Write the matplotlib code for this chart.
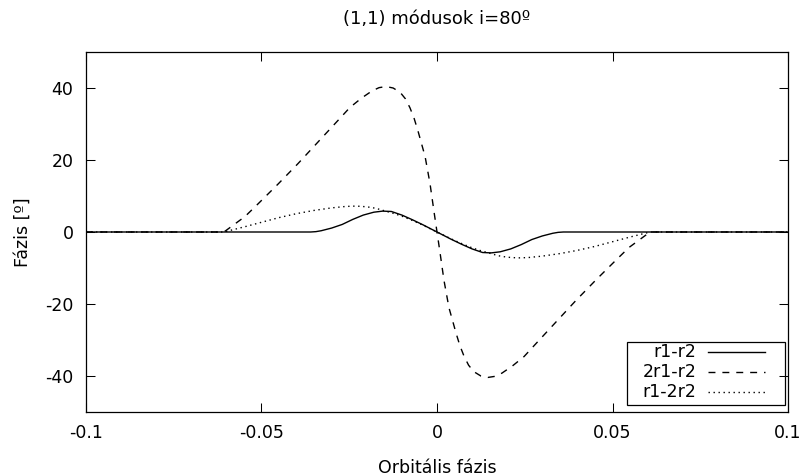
import numpy as np
import matplotlib
matplotlib.use("Agg")
import matplotlib.pyplot as plt

# r1-r2 (solid)
x_r1r2 = [-0.1, -0.0360, -0.0345, -0.0330, -0.0300, -0.0270, -0.0240, -0.0210,
          -0.0180, -0.0155, -0.0130, -0.0100, -0.0070, -0.0040, -0.0015, 0.0,
          0.0015, 0.0040, 0.0070, 0.0100, 0.0130, 0.0155, 0.0180, 0.0210,
          0.0240, 0.0270, 0.0300, 0.0330, 0.0345, 0.0360, 0.1]
y_r1r2 = [0.0, 0.0, 0.1, 0.35, 1.1, 2.1, 3.5, 4.7,
          5.5, 5.8, 5.7, 4.7, 3.4, 2.0, 0.75, 0.0,
          -0.75, -2.0, -3.4, -4.7, -5.7, -5.8, -5.5, -4.7,
          -3.5, -2.1, -1.1, -0.35, -0.1, 0.0, 0.0]

# 2r1-r2 (dashed)
x_2r1r2 = [-0.1, -0.0607, -0.0547, -0.0510, -0.0453, -0.0396, -0.0339, -0.0282,
           -0.0248, -0.0215, -0.0185, -0.0165, -0.0145, -0.0125, -0.0105,
           -0.0090, -0.0077, -0.0065, -0.0054, -0.0034, -0.0020, -0.0008, 0.0,
           0.0008, 0.0020, 0.0034, 0.0054, 0.0065, 0.0077, 0.0090, 0.0105,
           0.0125, 0.0145, 0.0165, 0.0185, 0.0215, 0.0248, 0.0282, 0.0339,
           0.0396, 0.0453, 0.0510, 0.0547, 0.0607, 0.1]
y_2r1r2 = [0.0, 0.0, 4.3, 7.8, 13.3, 19.0, 25.0, 31.0,
           34.6, 37.2, 39.2, 40.1, 40.4, 40.0, 38.8,
           37.0, 34.5, 31.5, 28.0, 21.0, 13.5, 5.3, 0.0,
           -5.3, -13.5, -21.0, -28.0, -31.5, -34.5, -37.0, -38.8,
           -40.0, -40.4, -40.1, -39.2, -37.2, -34.6, -31.0, -25.0,
           -19.0, -13.3, -7.8, -4.3, 0.0, 0.0]

# r1-2r2 (dotted)
x_r12r2 = [-0.1, -0.0607, -0.0550, -0.0500, -0.0450, -0.0400, -0.0350, -0.0300,
           -0.0260, -0.0230, -0.0200, -0.0175, -0.0150, -0.0125, -0.0100,
           -0.0070, -0.0040, -0.0015, 0.0,
           0.0015, 0.0040, 0.0070, 0.0100, 0.0125, 0.0150, 0.0175, 0.0200,
           0.0230, 0.0260, 0.0300, 0.0350, 0.0400, 0.0450, 0.0500, 0.0550,
           0.0607, 0.1]
y_r12r2 = [0.0, 0.0, 1.4, 2.7, 4.0, 5.1, 6.0, 6.7,
           7.1, 7.2, 7.0, 6.6, 5.9, 5.2, 4.4,
           3.2, 1.9, 0.7, 0.0,
           -0.7, -1.9, -3.2, -4.4, -5.2, -5.9, -6.6, -7.0,
           -7.2, -7.1, -6.7, -6.0, -5.1, -4.0, -2.7, -1.4,
           0.0, 0.0]

labels = ["r1-r2", "2r1-r2", "r1-2r2"]
x_ticks = [-0.1, -0.05, 0, 0.05, 0.1]
x_ticklabels = ["-0.1", "-0.05", "0", "0.05", "0.1"]
y_ticks = [-40, -20, 0, 20, 40]

plt.rcParams["font.family"] = "DejaVu Sans"
plt.rcParams["font.size"] = 12.5
plt.rcParams["axes.unicode_minus"] = False
plt.rcParams["lines.scale_dashes"] = False

fig = plt.figure(figsize=(8.04, 4.76), dpi=100)
ax = fig.add_axes([86 / 804, 64 / 476, 702 / 804, 360 / 476])

lw = 1.0
styles = ["-", (0, (5.0, 5.0)), (0, (1.0, 2.6))]
series = [(x_r1r2, y_r1r2), (x_2r1r2, y_2r1r2), (x_r12r2, y_r12r2)]
for (xs, ys), ls in zip(series, styles):
    ax.plot(xs, ys, color="black", linewidth=lw, linestyle=ls)

ax.set_xlim(-0.1, 0.1)
ax.set_ylim(-50, 50)
ax.set_xticks(x_ticks)
ax.set_xticklabels(x_ticklabels)
ax.set_yticks(y_ticks)
ax.tick_params(direction="in", length=6.5, width=0.75, top=True, right=True,
               pad=9)
for sp in ax.spines.values():
    sp.set_linewidth(0.9)

ax.set_title("(1,1) módusok i=80º", fontsize=13, pad=20)
ax.set_xlabel("Orbitális fázis", labelpad=12)
ax.set_ylabel("Fázis [º]", labelpad=10)

# key box in the lower right corner, text right-aligned before the sample
box = plt.Rectangle((0.771, 0.019), 0.225, 0.175, transform=ax.transAxes,
                    fill=False, edgecolor="black", linewidth=0.9)
ax.add_patch(box)
rows = [0.167, 0.111, 0.056]
for lab, ls, yr in zip(labels, styles, rows):
    ax.text(0.870, yr, lab, transform=ax.transAxes, ha="right", va="center")
    ax.plot([0.886, 0.967], [yr, yr], transform=ax.transAxes, color="black",
            linewidth=lw, linestyle=ls)

fig.savefig("out.png", dpi=100)
